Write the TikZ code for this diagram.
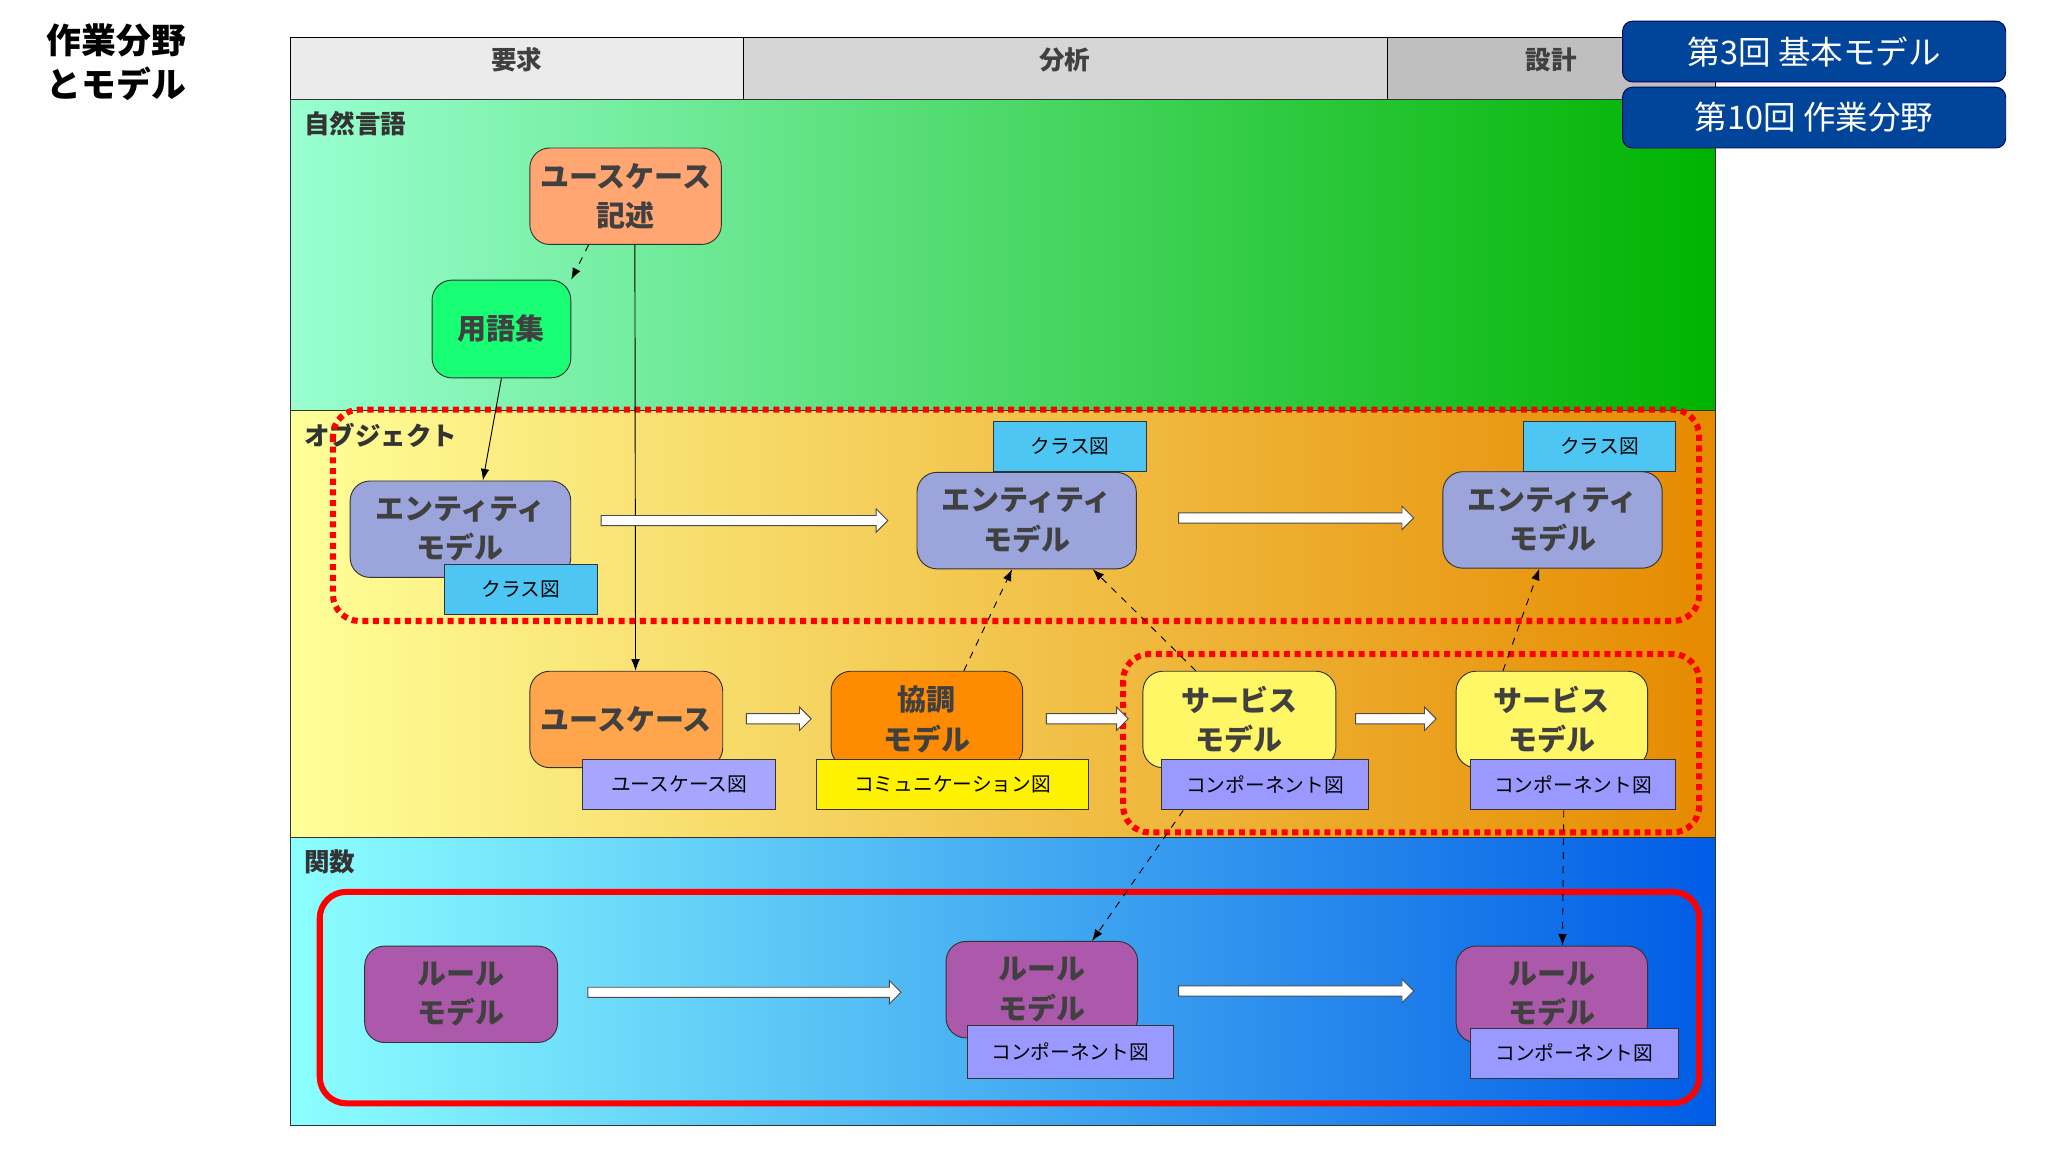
\documentclass[tikz,border=0pt]{standalone}
\usepackage{fontspec}
\setmainfont{Noto Sans CJK JP}
\usetikzlibrary{shapes.arrows,arrows.meta,calc}
\begin{document}
\begin{tikzpicture}[x=0.02cm,y=-0.02cm,
  mdl/.style={draw=black!80,rounded corners=0.3cm,minimum height=1.46cm,align=center,font=\fontsize{12.5}{17}\selectfont\bfseries,text=black!75,inner sep=1pt},
  tag/.style={draw=black!80,minimum height=0.76cm,font=\fontsize{8.5}{10}\selectfont,inner sep=1pt},
  harr/.style={single arrow,draw=black!70,fill=white,inner sep=0.07cm,single arrow head extend=0.1cm,single arrow head indent=0pt},
  dsh/.style={dashed,-{Latex[length=5pt]},thin},
  sld/.style={-{Latex[length=5pt]},thin},
  band/.style={font=\fontsize{11}{13}\selectfont\bfseries,text=black!80,anchor=north west},
  red/.style={draw=red,line width=2.6pt,rounded corners=0.4cm}]
\useasboundingbox (0,0) rectangle (1550,872);
\fill[white] (0,0) rectangle (1550,872);
% header
\draw[fill=black!8] (220,28) rectangle (563,75);
\draw[fill=black!16] (563,28) rectangle (1050,75);
\draw[fill=black!25] (1050,28) rectangle (1298,75);
\node[font=\fontsize{11}{13}\selectfont\bfseries,text=black!75] (h1) at (391,45) {要求};
\node[font=\fontsize{11}{13}\selectfont\bfseries,text=black!75] (h2) at (806,45) {分析};
\node[font=\fontsize{11}{13}\selectfont\bfseries,text=black!75] (h3) at (1174,45) {設計};
% bands
\shade[left color=green!45!cyan!40,right color=green!70!black,draw=black!80] (220,75) rectangle (1298,311);
\shade[left color=yellow!40,right color=orange!80!yellow!90!black,draw=black!80] (220,311) rectangle (1298,634);
\shade[left color=cyan!45,right color=blue!60!cyan!90!black,draw=black!80] (220,634) rectangle (1298,852);
\node[band] (b1) at (224,78) {自然言語};
\node[band] (b2) at (224,314) {オブジェクト};
\node[band] (b3) at (224,637) {関数};
% title
\node[align=left,font=\fontsize{15}{19}\selectfont\bfseries] (title) at (88,47) {作業分野\\とモデル};
% lecture boxes
\node[draw=blue!40!black,fill=blue!55!cyan!60!black,rounded corners=0.15cm,minimum width=5.8cm,minimum height=0.92cm,text=white,font=\fontsize{14}{16}\selectfont] (l1) at (1373,39) {第3回 基本モデル};
\node[draw=blue!40!black,fill=blue!55!cyan!60!black,rounded corners=0.15cm,minimum width=5.8cm,minimum height=0.92cm,text=white,font=\fontsize{14}{16}\selectfont] (l2) at (1373,89) {第10回 作業分野};
% red frames
\draw[red,dotted] (252,310) rectangle (1286,470);
\draw[red,dotted] (850,495) rectangle (1286,630);
\draw[red] (242,675) rectangle (1286,835);
% models
\node[mdl,fill=orange!40!pink,minimum width=2.9cm] (kij) at (473.5,148.5) {ユースケース\\記述};
\node[mdl,fill=green!60!cyan!90,minimum width=2.1cm,minimum height=1.48cm] (yogo) at (379.5,249) {用語集};
\node[mdl,fill=cyan!30!blue!40,minimum width=3.34cm] (ent1) at (348.5,400.5) {エンティティ\\モデル};
\node[mdl,fill=cyan!30!blue!40,minimum width=3.32cm] (ent2) at (777,394) {エンティティ\\モデル};
\node[mdl,fill=cyan!30!blue!40,minimum width=3.32cm] (ent3) at (1175,393.5) {エンティティ\\モデル};
\node[mdl,fill=orange!70,minimum width=2.92cm] (uc) at (474,544.5) {ユースケース};
\node[mdl,fill=orange!90!yellow,minimum width=2.9cm] (kyo) at (701.5,544.5) {協調\\モデル};
\node[mdl,fill=yellow!60,minimum width=2.92cm] (svc1) at (938,544.5) {サービス\\モデル};
\node[mdl,fill=yellow!60,minimum width=2.9cm] (svc2) at (1174.5,544.5) {サービス\\モデル};
\node[mdl,fill=violet!65!white,minimum width=2.92cm] (r1) at (349,752.5) {ルール\\モデル};
\node[mdl,fill=violet!65!white,minimum width=2.9cm] (r2) at (788.5,749) {ルール\\モデル};
\node[mdl,fill=violet!65!white,minimum width=2.9cm] (r3) at (1174.5,752.5) {ルール\\モデル};
% tags
\node[tag,fill=cyan!70,minimum width=2.32cm] (t1) at (394,446) {クラス図};
\node[tag,fill=cyan!70,minimum width=2.32cm] (t2) at (810,338) {クラス図};
\node[tag,fill=cyan!70,minimum width=2.3cm] (t3) at (1210.5,338) {クラス図};
\node[tag,fill=blue!35,minimum width=2.92cm] (t4) at (514,594) {ユースケース図};
\node[tag,fill=yellow,minimum width=4.12cm] (t5) at (721,594) {コミュニケーション図};
\node[tag,fill=blue!40,minimum width=3.14cm] (t6) at (957.5,594) {コンポーネント図};
\node[tag,fill=blue!40,minimum width=3.1cm] (t7) at (1190.5,594) {コンポーネント図};
\node[tag,fill=blue!40,minimum width=3.12cm,minimum height=0.8cm] (t8) at (810,796) {コンポーネント図};
\node[tag,fill=blue!40,minimum width=3.14cm] (t9) at (1191.5,797) {コンポーネント図};
% connectors
\draw[dsh] ($(kij.south)+(-28,0)$) -- (yogo.north east);
\draw[sld] (yogo.south) -- ($(ent1.north)+(17,0)$);
\draw[sld] ($(kij.south)+(7,0)$) -- ($(uc.north)+(7,0)$);
\draw[dsh] ($(kyo.north)+(28,0)$) -- ($(ent2.south)+(-11,0)$);
\draw[dsh] ($(svc1.north)+(-33,0)$) -- ($(ent2.south)+(50,0)$);
\draw[dsh] ($(svc2.north)+(-37,0)$) -- ($(ent3.south)+(-10,0)$);
\draw[dsh] ($(t6.south)+(-62,0)$) -- ($(r2.north)+(38,0)$);
\draw[dsh] ($(t7.south)+(-7,0)$) -- ($(r3.north)+(8,0)$);
% hollow arrows
\node[harr,minimum height=4.34cm] (a1) at (561.5,394) {};
\node[harr,minimum height=3.56cm] (a2) at (979,392) {};
\node[harr,minimum height=0.98cm] (a3) at (587.5,544) {};
\node[harr,minimum height=1.24cm] (a4) at (821,544) {};
\node[harr,minimum height=1.22cm] (a5) at (1054.5,544) {};
\node[harr,minimum height=4.74cm] (a6) at (561.5,751) {};
\node[harr,minimum height=3.56cm] (a7) at (979,750) {};
\end{tikzpicture}
\end{document}
